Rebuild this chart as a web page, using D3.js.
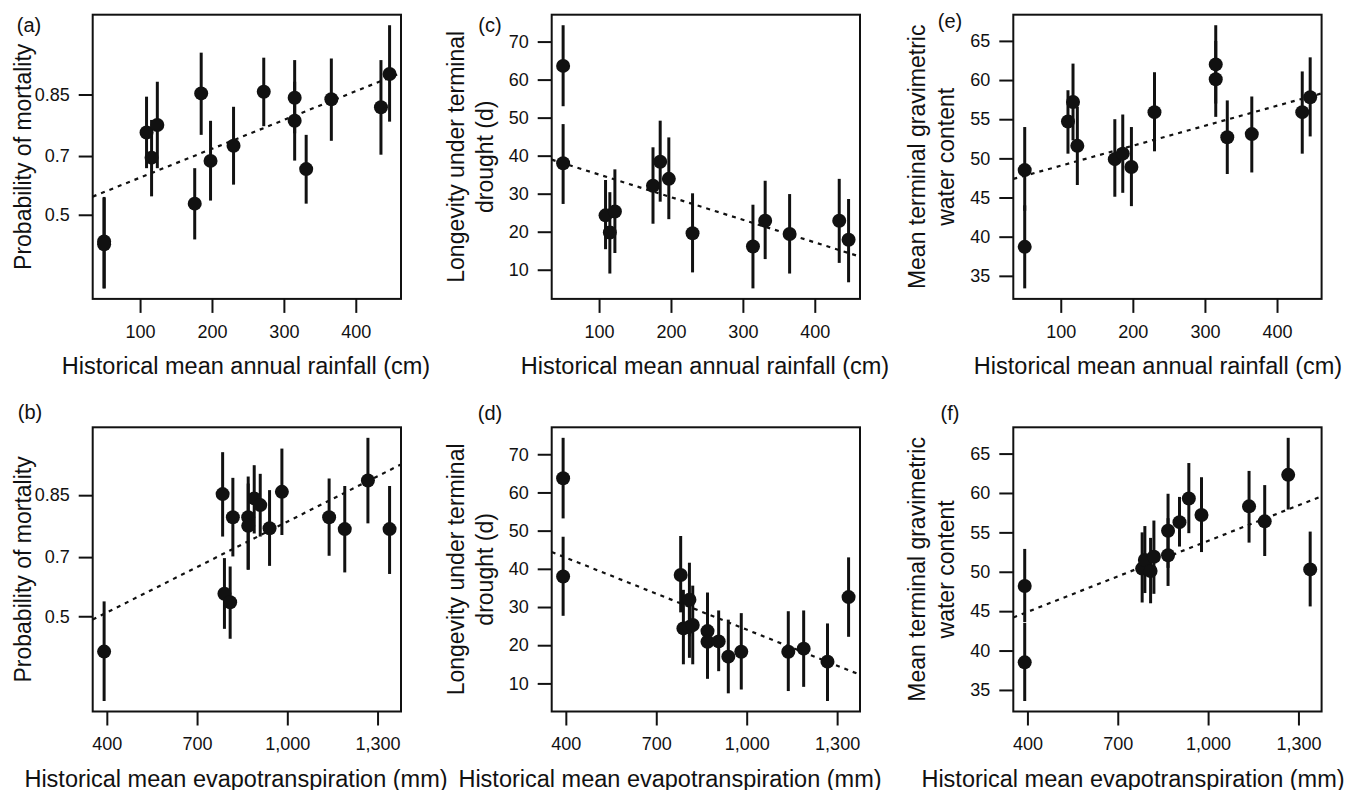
<!DOCTYPE html>
<html>
<head>
<meta charset="utf-8">
<script src="https://cdn.jsdelivr.net/npm/d3@7"></script>
<style>
  body { margin: 0; background: #fff; }
  svg text { font-family: "Liberation Sans", Arial, Helvetica, sans-serif; fill: #111; }
  .tick line { stroke: #111; stroke-width: 2px; }
  .tick text { font-size: 18px; }
</style>
</head>
<body>
<div id="figure"></div>
<script>
// x values, estimates and 95% interval  ->  [x, mean, low, high]
var panelA = [
  [50, 0.405, 0.257, 0.564], [50, 0.395, 0.257, 0.560],
  [109, 0.766, 0.662, 0.846], [116, 0.695, 0.566, 0.797],
  [124, 0.785, 0.662, 0.872], [176, 0.540, 0.412, 0.662],
  [185, 0.852, 0.760, 0.912], [198, 0.685, 0.551, 0.795],
  [230, 0.730, 0.607, 0.826], [272, 0.855, 0.782, 0.906],
  [315, 0.844, 0.764, 0.903], [315, 0.795, 0.686, 0.872],
  [331, 0.659, 0.540, 0.760], [366, 0.841, 0.744, 0.905],
  [435, 0.825, 0.704, 0.903], [447, 0.884, 0.793, 0.939]
];
var panelC = [
  [50, 63.6, 53.0, 74.3], [50, 38.0, 27.3, 48.3],
  [109, 24.3, 15.4, 33.6], [115, 19.8, 9.0, 30.4],
  [122, 25.3, 14.4, 36.4], [175, 32.1, 22.1, 42.2],
  [185, 38.4, 27.9, 49.2], [197, 33.9, 23.3, 44.8],
  [230, 19.6, 9.3, 30.1], [314, 16.1, 5.1, 27.1],
  [331, 22.9, 12.8, 33.4], [365, 19.4, 9.0, 29.9],
  [434, 22.9, 11.8, 33.9], [447, 17.9, 6.7, 28.6]
];
var panelE = [
  [50, 48.5, 43.3, 54.0], [50, 38.7, 33.4, 44.0],
  [110, 54.7, 50.6, 58.7], [117, 57.2, 52.3, 62.1],
  [123, 51.6, 46.6, 56.6], [175, 49.9, 45.1, 55.0],
  [186, 50.6, 45.6, 55.6], [198, 48.9, 43.9, 54.0],
  [230, 55.9, 50.9, 61.0], [315, 62.0, 57.0, 67.0],
  [315, 60.1, 55.3, 65.0], [331, 52.7, 48.0, 57.4],
  [365, 53.1, 48.2, 57.9], [435, 55.9, 50.6, 61.1],
  [446, 57.8, 52.8, 62.9]
];
var panelB = [
  [391, 0.376, 0.229, 0.553], [785, 0.852, 0.758, 0.913],
  [791, 0.580, 0.455, 0.697], [810, 0.550, 0.420, 0.671],
  [819, 0.805, 0.702, 0.879], [870, 0.805, 0.661, 0.881],
  [870, 0.785, 0.661, 0.870], [890, 0.844, 0.766, 0.897],
  [910, 0.831, 0.758, 0.885], [941, 0.779, 0.673, 0.859],
  [982, 0.856, 0.762, 0.917], [1139, 0.805, 0.704, 0.878],
  [1191, 0.777, 0.652, 0.866], [1268, 0.875, 0.791, 0.928],
  [1340, 0.777, 0.647, 0.866]
];
var panelD = [
  [391, 63.7, 53.2, 74.3], [391, 38.0, 27.7, 48.4],
  [781, 38.4, 28.6, 48.6], [790, 24.4, 15.0, 34.5],
  [810, 31.9, 22.3, 41.6], [810, 24.8, 16.7, 33.5],
  [821, 25.3, 15.0, 35.6], [870, 23.7, 14.5, 33.8],
  [870, 20.9, 11.2, 30.0], [907, 21.0, 13.2, 29.1],
  [939, 17.0, 7.4, 26.7], [982, 18.3, 8.4, 28.4],
  [1138, 18.3, 8.0, 28.9], [1189, 19.1, 9.1, 29.1],
  [1268, 15.7, 5.4, 25.7], [1338, 32.6, 22.2, 43.0]
];
var panelF = [
  [391, 48.2, 43.6, 52.9], [391, 38.5, 33.6, 43.5],
  [781, 50.4, 46.1, 55.0], [790, 51.5, 47.3, 55.8],
  [809, 50.1, 46.0, 54.3], [820, 51.9, 47.2, 56.5],
  [867, 52.1, 48.2, 56.8], [867, 55.2, 50.5, 59.9],
  [905, 56.3, 53.2, 59.5], [936, 59.3, 54.9, 63.8],
  [978, 57.2, 52.5, 62.0], [1136, 58.3, 53.7, 62.8],
  [1188, 56.4, 52.0, 61.0], [1266, 62.3, 57.9, 67.0],
  [1339, 50.3, 45.6, 55.1]
];

// fitted regression lines, two points each [x, y]
var trendA = [[35, 0.566], [462, 0.885]];
var trendC = [[35, 38.9], [462, 13.5]];
var trendE = [[35, 47.4], [462, 58.3]];
var trendB = [[353, 0.488], [1378, 0.898]];
var trendD = [[353, 44.4], [1378, 12.2]];
var trendF = [[353, 44.2], [1378, 59.6]];

// tick values / labels
var rainTicks = [100, 200, 300, 400];
var etTicks = [400, 700, 1000, 1300];
var probTicks = [0.5, 0.7, 0.85];
var probLabels = ["0.5", "0.7", "0.85"];
var longTicks = [10, 20, 30, 40, 50, 60, 70];
var waterTicks = [35, 40, 45, 50, 55, 60, 65];

var rainTitle = "Historical mean annual rainfall (cm)";
var etTitle = "Historical mean evapotranspiration (mm)";
var probTitle = ["Probability of mortality"];
var longTitle = ["Longevity under terminal", "drought (d)"];
var waterTitle = ["Mean terminal gravimetric", "water content"];

var width = 1355;
var height = 790;

var svg = d3.select("#figure")
  .append("svg")
  .attr("width", width)
  .attr("height", height);

// box geometry
var colLeft = [92.7, 551.7, 1013.3];
var rowTop = [14.7, 427.3];
var boxW = 308.3;
var boxH = 284.2;

function logit(p) { return Math.log(p / (1 - p)); }
function ident(v) { return v; }

// R style axis range: data range padded 4% on each side
function padded(lo, hi) {
  var pad = (hi - lo) * 0.04;
  return [lo - pad, hi + pad];
}

function drawPanel(opt) {
  var left = colLeft[opt.col];
  var top = rowTop[opt.row];
  var tf = opt.logit ? logit : ident;
  var data = opt.data;

  var xDom = padded(d3.min(data, function(d) { return d[0]; }),
                    d3.max(data, function(d) { return d[0]; }));
  var yDom = padded(d3.min(data, function(d) { return tf(d[2]); }),
                    d3.max(data, function(d) { return tf(d[3]); }));

  var xScale = d3.scaleLinear().domain(xDom).range([left, left + boxW]);
  var yScale = d3.scaleLinear().domain(yDom).range([top + boxH, top]);

  var g = svg.append("g");

  var clipId = "clip" + opt.letter;
  svg.append("clipPath").attr("id", clipId)
    .append("rect")
    .attr("x", left).attr("y", top)
    .attr("width", boxW).attr("height", boxH);

  // x axis
  var xAxis = d3.axisBottom(xScale)
    .tickValues(opt.xTicks)
    .tickSize(14)
    .tickPadding(12)
    .tickFormat(d3.format(","));
  g.append("g")
    .attr("transform", "translate(0," + (top + boxH) + ")")
    .call(xAxis)
    .call(function(s) { s.select(".domain").remove(); });

  // y axis
  var yAxis = d3.axisLeft(yScale)
    .tickSize(14)
    .tickPadding(9);
  if (opt.logit) {
    yAxis.tickValues(probTicks.map(logit))
      .tickFormat(function(d, i) { return probLabels[i]; });
  } else {
    yAxis.tickValues(opt.yTicks).tickFormat(d3.format("d"));
  }
  g.append("g")
    .attr("transform", "translate(" + left + ",0)")
    .call(yAxis)
    .call(function(s) { s.select(".domain").remove(); });

  // dashed regression line, extended to the box edges
  var t = opt.trend.map(function(p) { return [p[0], tf(p[1])]; });
  var slope = (t[1][1] - t[0][1]) / (t[1][0] - t[0][0]);
  var lineAt = function(x) { return t[0][1] + slope * (x - t[0][0]); };
  g.append("line")
    .attr("clip-path", "url(#" + clipId + ")")
    .attr("x1", xScale(xDom[0])).attr("y1", yScale(lineAt(xDom[0])))
    .attr("x2", xScale(xDom[1])).attr("y2", yScale(lineAt(xDom[1])))
    .attr("stroke", "#111")
    .attr("stroke-width", 2.2)
    .attr("stroke-dasharray", "4,5");

  // error bars
  g.selectAll(".err")
    .data(data)
    .enter()
    .append("line")
    .attr("class", "err")
    .attr("x1", function(d) { return xScale(d[0]); })
    .attr("x2", function(d) { return xScale(d[0]); })
    .attr("y1", function(d) { return yScale(tf(d[2])); })
    .attr("y2", function(d) { return yScale(tf(d[3])); })
    .attr("stroke", "#111")
    .attr("stroke-width", 3);

  // points
  g.selectAll(".pt")
    .data(data)
    .enter()
    .append("circle")
    .attr("class", "pt")
    .attr("cx", function(d) { return xScale(d[0]); })
    .attr("cy", function(d) { return yScale(tf(d[1])); })
    .attr("r", 7)
    .attr("fill", "#111");

  // frame
  g.append("rect")
    .attr("x", left).attr("y", top)
    .attr("width", boxW).attr("height", boxH)
    .attr("fill", "none")
    .attr("stroke", "#111")
    .attr("stroke-width", 2);

  // x title
  g.append("text")
    .attr("x", opt.xTitleX)
    .attr("y", top + boxH + 75)
    .attr("text-anchor", "middle")
    .style("font-size", "23.5px")
    .text(opt.xTitle);

  // y title (one or two lines)
  var cy = top + boxH / 2;
  var yOffsets = opt.yTitle.length === 2 ? [-96, -67] : [-70];
  opt.yTitle.forEach(function(line, i) {
    g.append("text")
      .attr("transform", "translate(" + (left + yOffsets[i]) + "," + cy + ")rotate(-90)")
      .attr("text-anchor", "middle")
      .attr("dominant-baseline", "central")
      .style("font-size", "23px")
      .text(line);
  });

  // panel letter
  g.append("text")
    .attr("x", opt.labelPos[0])
    .attr("y", opt.labelPos[1])
    .attr("text-anchor", "middle")
    .attr("dominant-baseline", "central")
    .style("font-size", "20px")
    .text("(" + opt.letter + ")");
}

drawPanel({ letter: "a", col: 0, row: 0, data: panelA, trend: trendA, logit: true,
  xTicks: rainTicks, xTitle: rainTitle, xTitleX: 246, yTitle: probTitle, labelPos: [29, 25] });
drawPanel({ letter: "c", col: 1, row: 0, data: panelC, trend: trendC, logit: false,
  xTicks: rainTicks, yTicks: longTicks, xTitle: rainTitle, xTitleX: 705, yTitle: longTitle, labelPos: [490, 25] });
drawPanel({ letter: "e", col: 2, row: 0, data: panelE, trend: trendE, logit: false,
  xTicks: rainTicks, yTicks: waterTicks, xTitle: rainTitle, xTitleX: 1158, yTitle: waterTitle, labelPos: [950, 21] });
drawPanel({ letter: "b", col: 0, row: 1, data: panelB, trend: trendB, logit: true,
  xTicks: etTicks, xTitle: etTitle, xTitleX: 236, yTitle: probTitle, labelPos: [30, 412] });
drawPanel({ letter: "d", col: 1, row: 1, data: panelD, trend: trendD, logit: false,
  xTicks: etTicks, yTicks: longTicks, xTitle: etTitle, xTitleX: 670, yTitle: longTitle, labelPos: [490, 413] });
drawPanel({ letter: "f", col: 2, row: 1, data: panelF, trend: trendF, logit: false,
  xTicks: etTicks, yTicks: waterTicks, xTitle: etTitle, xTitleX: 1133, yTitle: waterTitle, labelPos: [950, 413] });
</script>
</body>
</html>
